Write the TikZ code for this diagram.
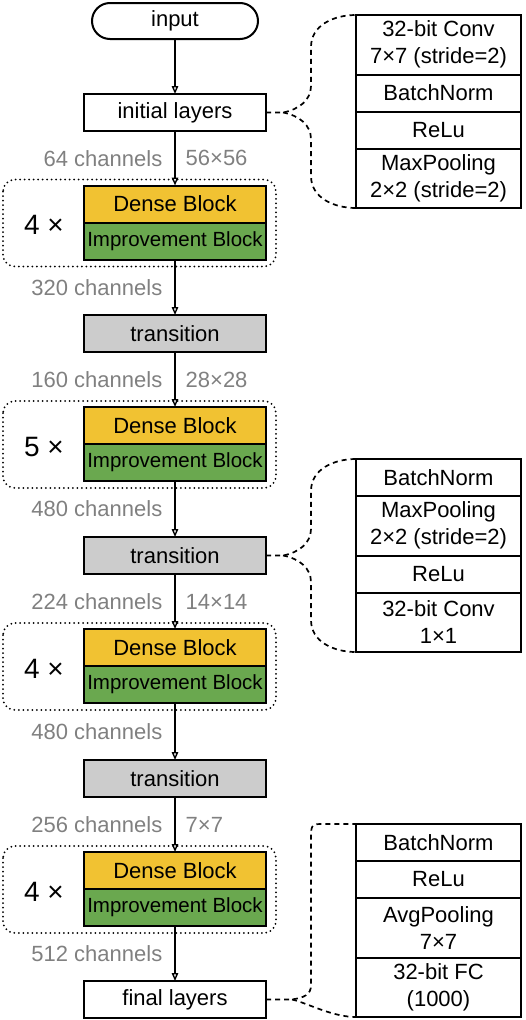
\documentclass[tikz,border=0pt]{standalone}
\usepackage{fontspec}
\setmainfont{Liberation Sans}
\usepackage{xcolor}
\usetikzlibrary{arrows.meta, positioning, calc}

\definecolor{denseyellow}{RGB}{241,194,50}
\definecolor{improvegreen}{RGB}{106,168,79}
\definecolor{transgray}{RGB}{204,204,204}
\definecolor{labelgray}{RGB}{128,128,128}

\begin{document}
\begin{tikzpicture}[
    x=1pt, y=-1pt,
    box/.style={rectangle, draw, line width=2pt, minimum width=182pt, minimum height=37pt, outer sep=0pt, inner sep=1pt, font=\fontsize{22}{26}\selectfont},
    inputnode/.style={box, rounded corners=18pt, minimum width=166pt, minimum height=36pt},
    dense/.style={box, fill=denseyellow},
    improve/.style={box, fill=improvegreen, font=\fontsize{20.5}{24}\selectfont},
    trans/.style={box, fill=transgray},
    layer/.style={rectangle, draw, line width=2pt, minimum width=165pt, minimum height=37pt, outer sep=0pt, align=center, font=\fontsize{22}{27}\selectfont},
    twolayer/.style={layer, minimum height=59.5pt},
    group/.style={draw, line width=2pt, dash pattern=on 0pt off 4.5pt, line cap=round, rounded corners=12pt},
    times/.style={font=\fontsize{28}{32}\selectfont},
    info/.style={text=labelgray, inner sep=1pt, font=\fontsize{22}{26}\selectfont},
    arrow/.style={-{Triangle[open, length=8pt, width=6.5pt]}, line width=1.4pt},
    brace/.style={line width=1.7pt, dash pattern=on 5pt off 4pt}
]
    \useasboundingbox (0,0) rectangle (526,1020);

    % Main column
    \node[inputnode] (input) at (175,21) {input};
    \node[box] (init) at (175,112.5) {initial layers};

    % Stage 1
    \node[dense] (d1) at (175,204) {Dense Block};
    \node[improve, below=0pt of d1] (i1) {Improvement Block};
    \node[times] (n1) at (44,225) {4 ×};
    \draw[group] ($(d1.north west)+(-81,-6)$) rectangle ($(i1.south east)+(10,7)$);
    \node[trans] (t1) at (175,333.5) {transition};

    % Stage 2
    \node[dense] (d2) at (175,425.5) {Dense Block};
    \node[improve, below=0pt of d2] (i2) {Improvement Block};
    \node[times] (n2) at (44,447) {5 ×};
    \draw[group] ($(d2.north west)+(-81,-6)$) rectangle ($(i2.south east)+(10,7)$);
    \node[trans] (t2) at (175,555.5) {transition};

    % Stage 3
    \node[dense] (d3) at (175,647.5) {Dense Block};
    \node[improve, below=0pt of d3] (i3) {Improvement Block};
    \node[times] (n3) at (44,669) {4 ×};
    \draw[group] ($(d3.north west)+(-81,-6)$) rectangle ($(i3.south east)+(10,7)$);
    \node[trans] (t3) at (175,778.5) {transition};

    % Stage 4
    \node[dense] (d4) at (175,870.5) {Dense Block};
    \node[improve, below=0pt of d4] (i4) {Improvement Block};
    \node[times] (n4) at (44,892) {4 ×};
    \draw[group] ($(d4.north west)+(-81,-6)$) rectangle ($(i4.south east)+(10,7)$);
    \node[box] (fin) at (175,999.5) {final layers};

    % Arrows
    \draw[arrow] (input) -- (init);
    \draw[arrow] (init) -- (d1) node[midway, info, left=11pt] {64 channels} node[midway, info, right=9pt] {56×56};
    \draw[arrow] (i1) -- (t1) node[midway, info, left=11pt] {320 channels};
    \draw[arrow] (t1) -- (d2) node[midway, info, left=11pt] {160 channels} node[midway, info, right=9pt] {28×28};
    \draw[arrow] (i2) -- (t2) node[midway, info, left=11pt] {480 channels};
    \draw[arrow] (t2) -- (d3) node[midway, info, left=11pt] {224 channels} node[midway, info, right=9pt] {14×14};
    \draw[arrow] (i3) -- (t3) node[midway, info, left=11pt] {480 channels};
    \draw[arrow] (t3) -- (d4) node[midway, info, left=11pt] {256 channels} node[midway, info, right=9pt] {7×7};
    \draw[arrow] (i4) -- (fin) node[midway, info, left=11pt] {512 channels};

    % Initial layers detail
    \node[twolayer] (c1) at (438.5,44.75) {32-bit Conv\\7×7 (stride=2)};
    \node[layer, below=0pt of c1] (c2) {BatchNorm};
    \node[layer, below=0pt of c2] (c3) {ReLu};
    \node[twolayer, below=0pt of c3] (c4) {MaxPooling\\2×2 (stride=2)};

    % Transition detail
    \node[layer] (e1) at (438.5,477.5) {BatchNorm};
    \node[twolayer, below=0pt of e1] (e2) {MaxPooling\\2×2 (stride=2)};
    \node[layer, below=0pt of e2] (e3) {ReLu};
    \node[twolayer, below=0pt of e3] (e4) {32-bit Conv\\1×1};

    % Final layers detail
    \node[layer] (f1) at (438.5,842.5) {BatchNorm};
    \node[layer, below=0pt of f1] (f2) {ReLu};
    \node[twolayer, below=0pt of f2] (f3) {AvgPooling\\7×7};
    \node[twolayer, below=0pt of f3] (f4) {32-bit FC\\(1000)};

    % Braces
    \draw[brace] (init.east) -- ++(17,0) .. controls +(16,-3) and +(0,14) .. (311,86) -- (311,47) .. controls +(0,-22) and +(-22,0) .. (c1.north west);
    \draw[brace] (init.east) ++(17,0) .. controls +(16,3) and +(0,-14) .. (311,139) -- (311,176) .. controls +(0,22) and +(-22,0) .. (c4.south west);
    \draw[brace] (t2.east) -- ++(17,0) .. controls +(16,-3) and +(0,14) .. (311,529) -- (311,491) .. controls +(0,-22) and +(-22,0) .. (e1.north west);
    \draw[brace] (t2.east) ++(17,0) .. controls +(16,3) and +(0,-14) .. (311,582) -- (311,620) .. controls +(0,22) and +(-22,0) .. (e4.south west);
    \draw[brace] (fin.east) -- ++(26,0) .. controls +(12,-2) and +(0,10) .. (311,985) -- (311,836) .. controls +(0,-12) and +(-10,0) .. (323,824) -- (f1.north west);
    \draw[brace] (fin.east) ++(26,0) .. controls +(14,3) and +(-24,0) .. (f4.south west);
\end{tikzpicture}
\end{document}
